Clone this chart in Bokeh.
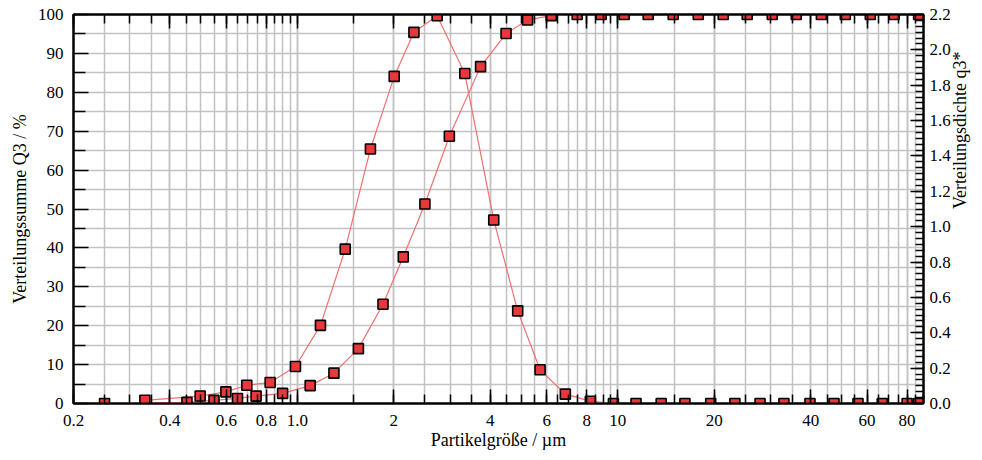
import math
from bokeh.plotting import figure
from bokeh.models import (LogAxis, LinearAxis, Range1d, FixedTicker,
                          CustomJSTickFormatter, ColumnDataSource)
from bokeh.embed import file_html
from bokeh.resources import INLINE

# ---------------- data ----------------
# cumulative distribution Q3 / % (left axis)
cum_x = [0.25, 0.452, 0.549, 0.650, 0.743, 0.899, 1.096, 1.30, 1.55, 1.85,
         2.14, 2.50, 2.98, 3.73, 4.48, 5.23, 6.20, 7.47, 8.87, 10.47, 12.44,
         14.89, 17.83, 21.34, 25.35, 30.35, 36.06, 43.2, 51.3, 61.4, 72.9, 86.9]
cum_y = [0.0, 0.3, 0.8, 1.3, 1.9, 2.6, 4.6, 7.8, 14.1, 25.5,
         37.7, 51.3, 68.7, 86.6, 95.1, 98.6, 99.7, 100, 100, 100, 100,
         100, 100, 100, 100, 100, 100, 100, 100, 100, 100, 100]

# density distribution q3* (right axis)
dens_x = [0.334, 0.497, 0.598, 0.695, 0.822, 0.986, 1.18, 1.41, 1.69, 2.005,
          2.31, 2.73, 3.33, 4.10, 4.87, 5.72, 6.86, 8.21, 9.69, 11.4, 13.66,
          16.2, 19.5, 23.2, 27.8, 33.0, 39.8, 47.3, 56.2, 66.9, 80.0, 86.9]
dens_y = [0.018, 0.042, 0.066, 0.103, 0.119, 0.209, 0.442, 0.873, 1.439, 1.850,
          2.099, 2.193, 1.866, 1.038, 0.524, 0.191, 0.053, 0.013, 0.0, 0.0, 0.0,
          0.0, 0.0, 0.0, 0.0, 0.0, 0.0, 0.0, 0.0, 0.0, 0.0, 0.0]

# axis ticks
x_major = [0.2, 0.4, 0.6, 0.8, 1.0, 2, 4, 6, 8, 10, 20, 40, 60, 80]
x_minor = ([round(0.05 * i, 2) for i in range(4, 21)] +
           [round(0.5 * i, 1) for i in range(2, 21)] +
           [5 * i for i in range(2, 19)])
y_major = [0, 10, 20, 30, 40, 50, 60, 70, 80, 90, 100]
y_minor = [5, 15, 25, 35, 45, 55, 65, 75, 85, 95]
r_major = [0.0, 0.2, 0.4, 0.6, 0.8, 1.0, 1.2, 1.4, 1.6, 1.8, 2.0, 2.2]
r_minor = [round(i * 0.2 / 6, 4) for i in range(0, 67)]

FONT = "Liberation Serif"
LINE_COL = "#f07070"
MARK_COL = "#e8383c"
GRID_COL = "#c2c2c2"

p = figure(width=982, height=460, x_axis_type="log",
           x_range=Range1d(0.2, 90), y_range=Range1d(0, 100),
           output_backend="svg", toolbar_location=None,
           min_border_left=73, min_border_right=59,
           min_border_top=14, min_border_bottom=57)
p.extra_y_ranges = {"q": Range1d(0, 2.2)}

p.outline_line_color = "black"
p.outline_line_width = 2
p.background_fill_color = "white"
p.border_fill_color = "white"

xt = FixedTicker(ticks=x_major, minor_ticks=x_minor)
yt = FixedTicker(ticks=y_major, minor_ticks=y_minor)

# grids
p.xgrid.ticker = xt
p.ygrid.ticker = yt
for g in (p.xgrid, p.ygrid):
    g.grid_line_color = GRID_COL
    g.grid_line_width = 1.5
    g.minor_grid_line_color = GRID_COL
    g.minor_grid_line_width = 1.5

xfmt = CustomJSTickFormatter(code="return tick == 1 ? '1.0' : String(tick);")


def style_axis(ax, maj_in, min_in):
    ax.axis_line_color = "black"
    ax.axis_line_width = 2
    ax.major_tick_line_color = "black"
    ax.minor_tick_line_color = "black"
    ax.major_tick_line_width = 1.5
    ax.minor_tick_line_width = 1.5
    ax.major_tick_in = maj_in
    ax.major_tick_out = 0
    ax.minor_tick_in = min_in
    ax.minor_tick_out = 0
    ax.major_label_text_font = FONT
    ax.major_label_text_font_size = "17px"
    ax.major_label_text_color = "black"
    ax.axis_label_text_font = FONT
    ax.axis_label_text_font_size = "18px"
    ax.axis_label_text_font_style = "normal"
    ax.axis_label_text_color = "black"


# bottom axis
bx = p.xaxis[0]
bx.ticker = xt
bx.formatter = xfmt
bx.axis_label = "Partikelgröße / µm"
style_axis(bx, 14, 9)
bx.major_label_standoff = 11
bx.axis_label_standoff = 1

# top axis (ticks only)
tx = LogAxis(ticker=xt, formatter=CustomJSTickFormatter(code="return '';"))
style_axis(tx, 14, 9)
tx.major_label_text_font_size = "1px"
tx.major_label_standoff = 0
p.add_layout(tx, "above")

# left axis
ly = p.yaxis[0]
ly.ticker = yt
ly.axis_label = "Verteilungssumme Q3 / %"
style_axis(ly, 15, 12)
ly.major_label_standoff = 10
ly.axis_label_standoff = 5

# right axis
ry = LinearAxis(y_range_name="q",
                ticker=FixedTicker(ticks=r_major, minor_ticks=r_minor),
                formatter=CustomJSTickFormatter(code="return tick.toFixed(1);"),
                axis_label="Verteilungsdichte q3*")
style_axis(ry, 13, 8)
ry.major_label_standoff = 6
ry.axis_label_standoff = 6
try:
    ry.axis_label_orientation = math.pi / 2
except Exception:
    pass
p.add_layout(ry, "right")

cum_src = ColumnDataSource(data=dict(x=cum_x, y=cum_y))
dens_src = ColumnDataSource(data=dict(x=dens_x, y=dens_y))

p.line("x", "y", source=cum_src, line_color=LINE_COL, line_width=1.2)
p.line("x", "y", source=dens_src, line_color=LINE_COL, line_width=1.2,
       y_range_name="q")
p.scatter("x", "y", source=cum_src, marker="square", size=10,
          fill_color=MARK_COL, line_color="black", line_width=1.6)
p.scatter("x", "y", source=dens_src, marker="square", size=10,
          fill_color=MARK_COL, line_color="black", line_width=1.6,
          y_range_name="q")

open("out.html", "w").write(file_html(p, INLINE))
